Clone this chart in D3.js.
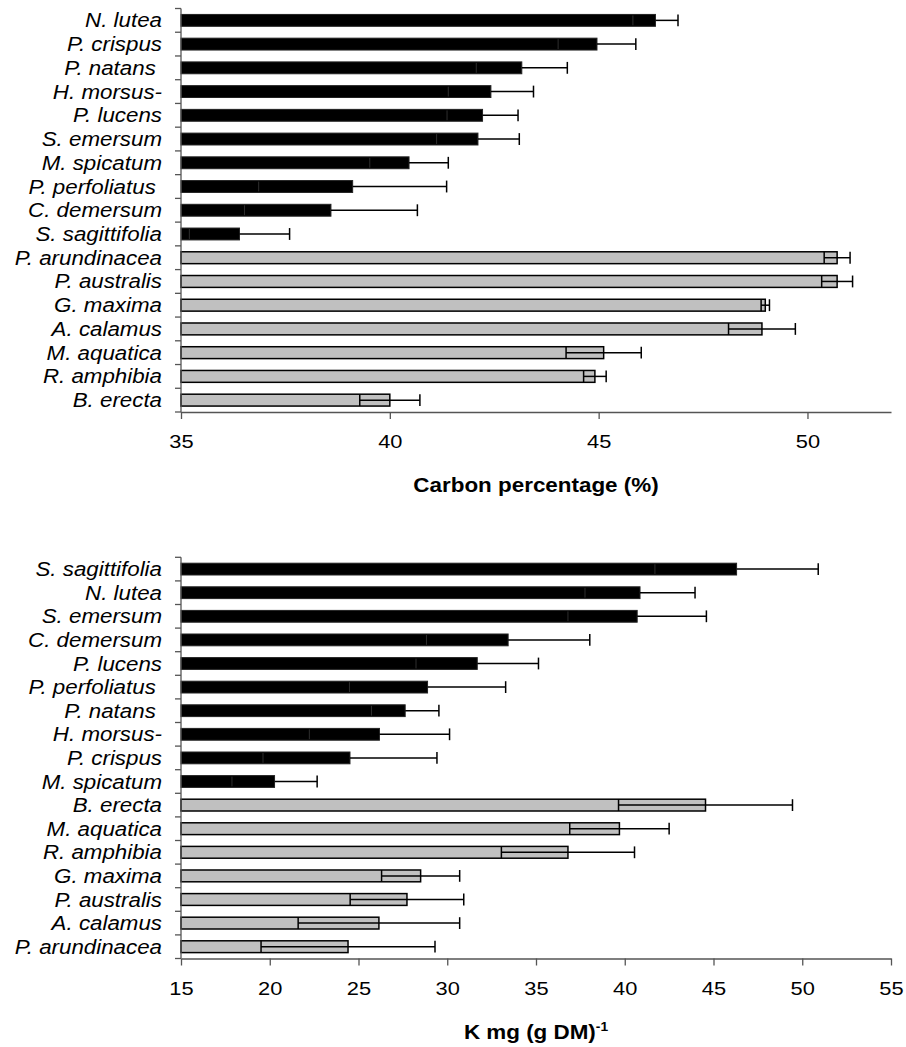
<!DOCTYPE html>
<html>
<head>
<meta charset="utf-8">
<script src="https://cdn.jsdelivr.net/npm/d3@7"></script>
<style>
  html, body { margin: 0; padding: 0; background: #fff; }
  svg { display: block; }
  text { font-family: "Liberation Sans", Arial, sans-serif; white-space: pre; fill: #000; }
</style>
</head>
<body>
<svg id="chart" width="906" height="1047"></svg>
<script>
// Carbon content of macrophyte tissue (% of dry mass), mean and error
const carbonSpecies = ["N. lutea", "P. crispus", "P. natans ", "H. morsus-", "P. lucens", "S. emersum",
  "M. spicatum", "P. perfoliatus ", "C. demersum", "S. sagittifolia", "P. arundinacea", "P. australis",
  "G. maxima", "A. calamus", "M. aquatica", "R. amphibia", "B. erecta"];
const carbonValues = [46.36, 44.96, 43.16, 42.42, 42.22, 42.11, 40.46, 39.11, 38.59, 36.40,
  50.71, 50.71, 48.99, 48.91, 45.12, 44.91, 40.00];
const carbonErrors = [0.54, 0.93, 1.09, 1.02, 0.85, 0.99, 0.94, 2.25, 2.07, 1.20,
  0.31, 0.37, 0.10, 0.80, 0.90, 0.27, 0.72];
const carbonForm = ["sub", "sub", "sub", "sub", "sub", "sub", "sub", "sub", "sub", "sub",
  "emer", "emer", "emer", "emer", "emer", "emer", "emer"];
const carbonTicks = [35, 40, 45, 50];

// Potassium content, mg per g dry mass
const potassiumSpecies = ["S. sagittifolia", "N. lutea", "S. emersum", "C. demersum", "P. lucens",
  "P. perfoliatus ", "P. natans ", "H. morsus-", "P. crispus", "M. spicatum", "B. erecta",
  "M. aquatica", "R. amphibia", "G. maxima", "P. australis", "A. calamus", "P. arundinacea"];
const potassiumValues = [46.30, 40.86, 40.70, 33.43, 31.69, 28.89, 27.63, 26.18, 24.52, 20.27,
  44.55, 39.70, 36.80, 28.50, 27.73, 26.15, 24.41];
const potassiumErrors = [4.60, 3.10, 3.90, 4.60, 3.45, 4.40, 1.90, 3.95, 4.90, 2.40,
  4.90, 2.80, 3.75, 2.20, 3.20, 4.55, 4.90];
const potassiumForm = ["sub", "sub", "sub", "sub", "sub", "sub", "sub", "sub", "sub", "sub",
  "emer", "emer", "emer", "emer", "emer", "emer", "emer"];
const potassiumTicks = [15, 20, 25, 30, 35, 40, 45, 50, 55];

const svg = d3.select("#chart");
const STRETCH = 1.15;           // horizontal widening of axis lettering
const LABEL_STRETCH = 1.145;    // horizontal widening of species names
const AXIS_COLOR = "#555";

function drawPanel(cfg) {
  const g = svg.append("g");
  const x = d3.scaleLinear().domain(cfg.domain).range([cfg.left, cfg.right]);
  const y = d3.scaleBand().domain(d3.range(cfg.species.length))
    .range([cfg.top, cfg.bottom]).paddingInner(0.5).paddingOuter(0.25);
  const step = y.step();
  const bw = y.bandwidth();
  const capHalf = bw / 2;

  // bars
  cfg.species.forEach((name, i) => {
    const v = cfg.values[i], e = cfg.errors[i];
    const dark = cfg.form[i] === "sub";
    const y0 = y(i), yc = y0 + bw / 2;
    g.append("rect")
      .attr("x", x(cfg.domain[0]))
      .attr("y", y0)
      .attr("width", x(v) - x(cfg.domain[0]))
      .attr("height", bw)
      .attr("fill", dark ? "#000" : "#c0c0c0")
      .attr("stroke", dark ? "#222" : "#000")
      .attr("stroke-width", dark ? 1 : 1.5);

    // error bars (both directions)
    const eb = g.append("g").attr("fill", "none").attr("stroke-width", 1.5);
    if (dark) {
      eb.append("line").attr("stroke", "#2e2e2e").attr("stroke-width", 1)
        .attr("x1", x(v - e)).attr("x2", x(v - e))
        .attr("y1", yc - capHalf + 1).attr("y2", yc + capHalf - 1);
      eb.append("line").attr("stroke", "#000")
        .attr("x1", x(v)).attr("x2", x(v + e)).attr("y1", yc).attr("y2", yc);
    } else {
      eb.append("line").attr("stroke", "#000")
        .attr("x1", x(v - e)).attr("x2", x(v + e)).attr("y1", yc).attr("y2", yc);
      eb.append("line").attr("stroke", "#000")
        .attr("x1", x(v - e)).attr("x2", x(v - e))
        .attr("y1", yc - capHalf).attr("y2", yc + capHalf);
    }
    eb.append("line").attr("stroke", "#000")
      .attr("x1", x(v + e)).attr("x2", x(v + e))
      .attr("y1", yc - capHalf).attr("y2", yc + capHalf);

    // category label
    g.append("text")
      .attr("transform", `translate(${cfg.left - 19},${yc}) scale(${LABEL_STRETCH},1)`)
      .attr("text-anchor", "end")
      .attr("dy", "0.36em")
      .attr("font-size", 19.5)
      .attr("font-style", "italic")
      .text(name);
  });

  // category axis: line with ticks between categories
  const ya = g.append("g").attr("stroke", AXIS_COLOR).attr("stroke-width", 1.3);
  ya.append("line").attr("x1", cfg.left).attr("x2", cfg.left)
    .attr("y1", cfg.top).attr("y2", cfg.bottom);
  d3.range(cfg.species.length + 1).forEach(k => {
    const yy = y.range()[0] + k * step;
    ya.append("line").attr("x1", cfg.left - 6).attr("x2", cfg.left)
      .attr("y1", yy).attr("y2", yy);
  });

  // value axis
  const xa = g.append("g")
    .attr("transform", `translate(0,${cfg.bottom})`)
    .call(d3.axisBottom(x).tickValues(cfg.ticks).tickSize(7).tickPadding(cfg.tickPad).tickSizeOuter(0));
  xa.select(".domain").attr("stroke", AXIS_COLOR).attr("stroke-width", 1.3);
  xa.selectAll(".tick line").attr("stroke", AXIS_COLOR).attr("stroke-width", 1.3);
  xa.selectAll(".tick text")
    .attr("font-size", 19)
    .attr("font-family", "Liberation Sans, Arial, sans-serif")
    .attr("fill", "#000")
    .attr("transform", `scale(${STRETCH},1)`);

  return { x, g };
}

drawPanel({
  species: carbonSpecies, values: carbonValues, errors: carbonErrors, form: carbonForm,
  domain: [35, 52], ticks: carbonTicks,
  left: 181, right: 891, top: 8.5, bottom: 412, tickPad: 16
});
svg.append("text")
  .attr("transform", `translate(536,492) scale(${STRETCH},1)`)
  .attr("text-anchor", "middle")
  .attr("font-size", 19.5)
  .attr("font-weight", "bold")
  .text("Carbon percentage (%)");

drawPanel({
  species: potassiumSpecies, values: potassiumValues, errors: potassiumErrors, form: potassiumForm,
  domain: [15, 55], ticks: potassiumTicks,
  left: 181, right: 891, top: 557.3, bottom: 958.5, tickPad: 16
});
const kTitle = svg.append("text")
  .attr("transform", `translate(536,1039) scale(${STRETCH},1)`)
  .attr("text-anchor", "middle")
  .attr("font-size", 19.5)
  .attr("font-weight", "bold");
kTitle.append("tspan").text("K mg (g DM)");
kTitle.append("tspan").attr("dy", -8).attr("font-size", 12).text("-1");
</script>
</body>
</html>
